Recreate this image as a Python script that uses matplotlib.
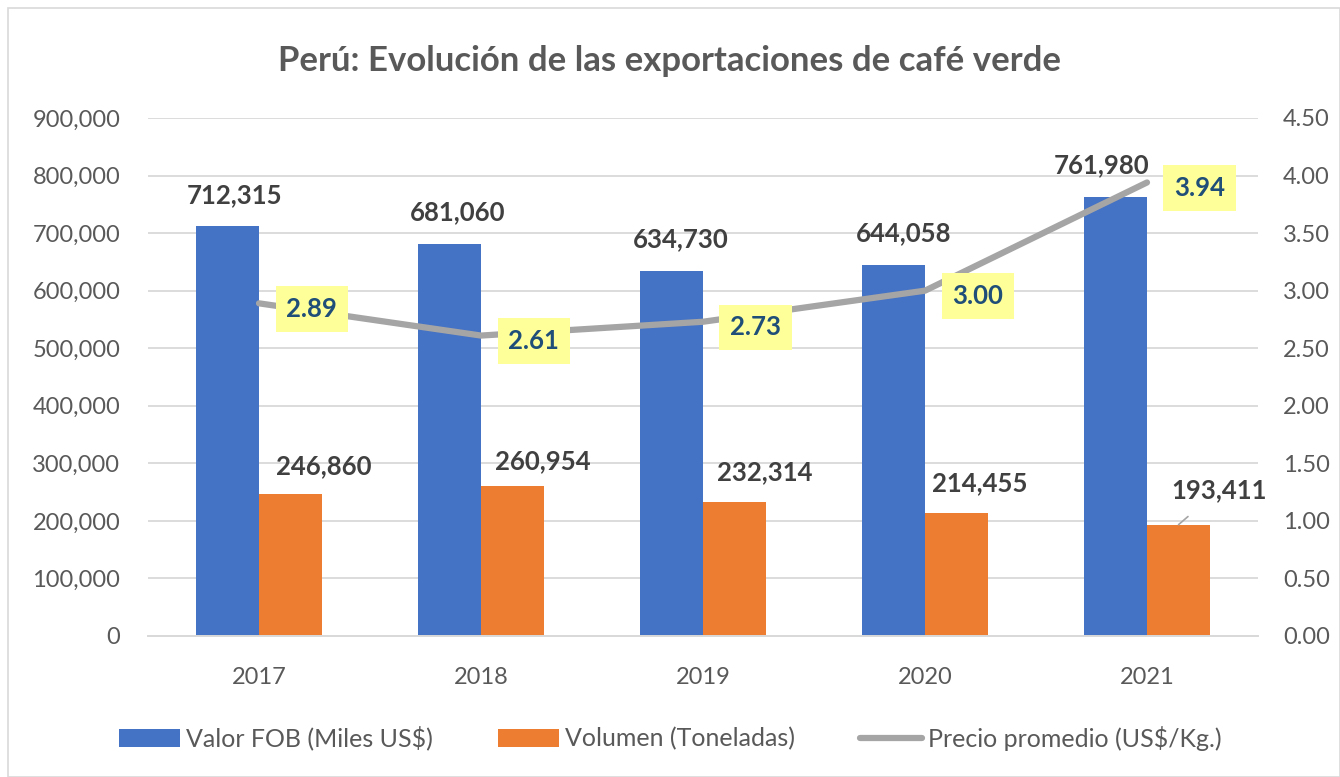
import matplotlib.pyplot as plt
import numpy as np
from matplotlib.patches import Rectangle, Patch
from matplotlib.lines import Line2D
from matplotlib.ticker import FuncFormatter, MultipleLocator

plt.rcParams['font.family'] = ['Lato', 'DejaVu Sans']

# Datos
anios = ["2017", "2018", "2019", "2020", "2021"]
valor_fob = [712315, 681060, 634730, 644058, 761980]
volumen = [246860, 260954, 232314, 214455, 193411]
precio = [2.89, 2.61, 2.73, 3.00, 3.94]

# Desplazamientos de etiquetas (puntos)
off_fob = [(5, 22), (6, 23), (7, 23), (7, 23), (-10, 23)]
off_vol = [(24, 20), (22, 18), (22, 22), (17, 21), (29, 25)]

azul = "#4472C4"
naranja = "#ED7D31"
gris = "#A5A5A5"
texto = "#595959"
etiqueta = "#404040"

fig = plt.figure(figsize=(13.4, 7.77), dpi=100)
ax = fig.add_axes([148 / 1340, 141 / 777, 1110 / 1340, 518 / 777])
ax2 = ax.twinx()

x = np.arange(len(anios))
w = 0.284
ax.bar(x - w / 2, valor_fob, w, color=azul, zorder=2)
ax.bar(x + w / 2, volumen, w, color=naranja, zorder=2)

ax.set_xlim(-0.5, len(anios) - 0.5)
ax.set_ylim(0, 900000)
ax.yaxis.set_major_locator(MultipleLocator(100000))
ax.yaxis.set_major_formatter(FuncFormatter(lambda v, p: f"{int(v):,}"))
ax.grid(axis="y", color="#D9D9D9", linewidth=1.3, zorder=0)
ax.set_axisbelow(True)
ax.set_xticks(x)
ax.set_xticklabels(anios)

for a in (ax, ax2):
    for s in ["top", "left", "right"]:
        a.spines[s].set_visible(False)
    a.spines["bottom"].set_color("#D9D9D9")
    a.spines["bottom"].set_linewidth(1.3)
    a.tick_params(length=0, labelsize=17, labelcolor=texto)
ax.tick_params(axis="y", pad=20)
ax.tick_params(axis="x", pad=22)
ax2.tick_params(axis="y", pad=18)

ax2.plot(x, precio, color=gris, linewidth=4.5, solid_capstyle="round", zorder=3)
ax2.set_ylim(0, 4.5)
ax2.yaxis.set_major_locator(MultipleLocator(0.5))
ax2.yaxis.set_major_formatter(FuncFormatter(lambda v, p: f"{v:.2f}"))
ax2.grid(False)

# Etiquetas de barras
for i, v in enumerate(valor_fob):
    ax.annotate(f"{v:,}", xy=(x[i] - w / 2, v), xytext=off_fob[i], textcoords="offset points",
                ha="center", va="center", fontsize=18.5, fontweight="bold", color=etiqueta)
for i, v in enumerate(volumen):
    props = None
    if i == len(volumen) - 1:
        props = dict(arrowstyle="-", color=gris, lw=1.2, shrinkA=13, shrinkB=0)
    ax.annotate(f"{v:,}", xy=(x[i] + w / 2, v), xytext=off_vol[i], textcoords="offset points",
                ha="center", va="center", fontsize=18.5, fontweight="bold", color=etiqueta,
                arrowprops=props)

# Etiquetas de precio
for i, p in enumerate(precio):
    ax2.annotate(f"{p:.2f}", xy=(x[i], p), xytext=(38, -4), textcoords="offset points",
                 ha="center", va="center", fontsize=18.5, fontweight="bold", color="#1F4E79",
                 bbox=dict(boxstyle="square,pad=0.42", facecolor="#FFFF99", edgecolor="none"),
                 zorder=5)

fig.text(0.5, 0.922, "Perú: Evolución de las exportaciones de café verde", ha="center", va="center",
         fontsize=25, fontweight="bold", color=texto)

handles = [Patch(facecolor=azul), Patch(facecolor=naranja),
           Line2D([0], [0], color=gris, linewidth=4.5, solid_capstyle="round")]
labels = ["Valor FOB (Miles US$)", "Volumen (Toneladas)", "Precio promedio (US$/Kg.)"]
fig.legend(handles, labels, loc="center", bbox_to_anchor=(0.5, 0.05), ncol=3, frameon=False,
           fontsize=18, labelcolor=texto, handlelength=2.45, handleheight=0.75,
           columnspacing=2.6, handletextpad=0.25)

fig.add_artist(Rectangle((0.006, 0.0), 0.994, 0.99, transform=fig.transFigure, fill=False,
                         edgecolor="#D9D9D9", linewidth=1.2))

fig.savefig("out.png", dpi=100)
